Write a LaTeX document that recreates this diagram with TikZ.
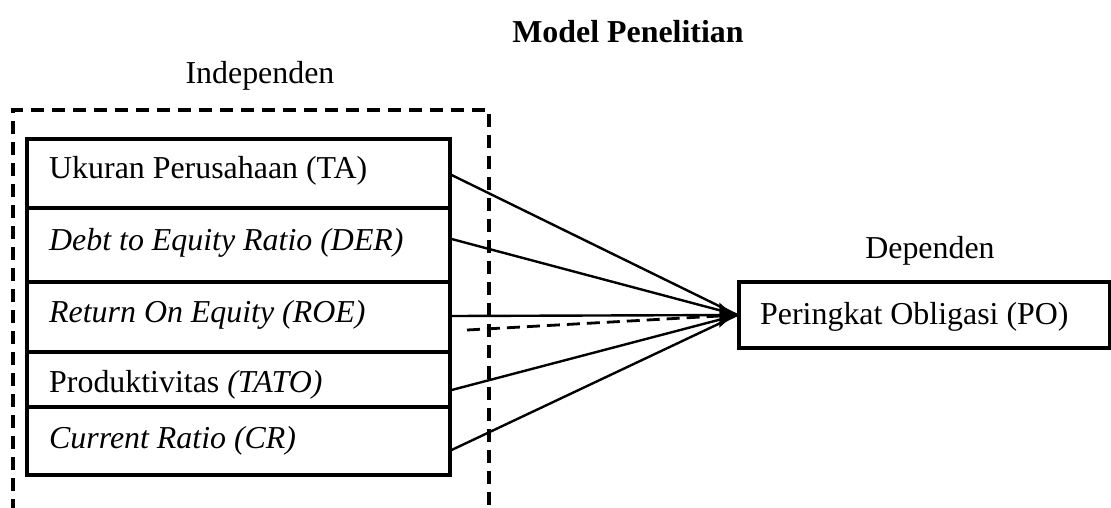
\documentclass[tikz,border=0pt]{standalone}
\usepackage{fontspec}
\setmainfont{Liberation Serif}
\usetikzlibrary{arrows.meta}
\begin{document}
\begin{tikzpicture}[x=1pt,y=-1pt,
  every node/.style={font=\fontsize{31.9}{38}\selectfont},
  rowbox/.style={draw, line width=3.2pt, minimum width=423pt, inner sep=0pt},
  lbl/.style={anchor=base west, inner sep=0pt},
  ctext/.style={anchor=base, inner sep=0pt},
  conn/.style={line width=2.4pt},
  dashbox/.style={line width=3.4pt, dash pattern=on 13pt off 8pt},
  dashconn/.style={line width=2.8pt, dash pattern=on 13pt off 7pt}]
\useasboundingbox (0,0) rectangle (1111,507);
% titles
\node[ctext] (title) at (628,42) {\textbf{Model Penelitian}};
\node[ctext] (indep) at (260,83) {Independen};
\node[ctext] (dep) at (930,258) {Dependen};
% dashed group
\draw[dashbox] (13,512) -- (13,110) -- (489,110) -- (489,512);
% rows
\node[rowbox, minimum height=69pt] (ta) at (238.5,173.5) {};
\node[rowbox, minimum height=74pt] (der) at (238.5,245) {};
\node[rowbox, minimum height=70pt] (roe) at (238.5,317) {};
\node[rowbox, minimum height=55pt] (tato) at (238.5,379.5) {};
\node[rowbox, minimum height=68pt] (cr) at (238.5,441) {};
\node[lbl] (tat) at (49,178) {Ukuran Perusahaan (TA)};
\node[lbl] (dert) at (49,250) {\textit{Debt to Equity Ratio (DER)}};
\node[lbl] (roet) at (49,322) {\textit{Return On Equity (ROE)}};
\node[lbl] (tatot) at (49,392) {Produktivitas \textit{(TATO)}};
\node[lbl] (crt) at (49,448) {\textit{Current Ratio (CR)}};
% dependent
\node[draw, line width=3.2pt, minimum width=371pt, minimum height=66pt, inner sep=0pt] (po) at (924.5,315) {};
\node[lbl] (pot) at (760,324) {Peringkat Obligasi (PO)};
% connectors
\coordinate (dstart) at (467,330);
\draw[conn] ([yshift=-1.5pt]ta.east) -- (po.west);
\draw[conn] ([yshift=6pt]der.east) -- (po.west);
\draw[conn] ([yshift=-10.5pt]tato.east) -- (po.west);
\draw[conn] ([yshift=-9pt]cr.east) -- (po.west);
\draw[dashconn] (dstart) -- (po.west);
\draw[conn, -{Latex[length=18pt,width=26pt]}] ([yshift=1pt]roe.east) -- (po.west);
\end{tikzpicture}
\end{document}
